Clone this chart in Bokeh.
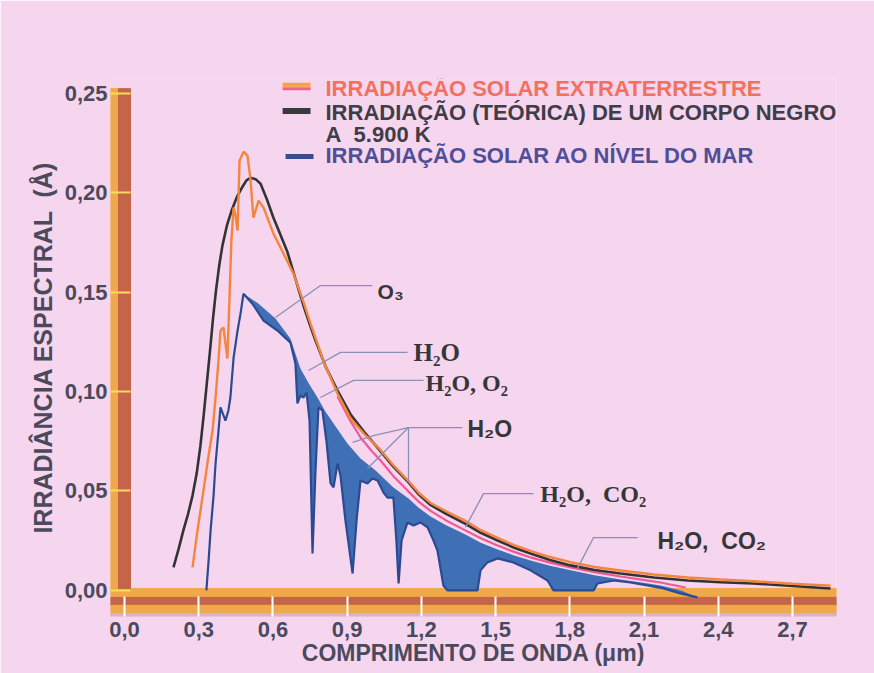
from bokeh.plotting import figure
from bokeh.models import Range1d, FixedTicker, CustomJSTickFormatter
from bokeh.core.properties import value
from bokeh.embed import file_html
from bokeh.resources import INLINE

# ---------------- data ----------------
# Black body at 5900 K
bb_x = [0.198, 0.218, 0.238, 0.257, 0.275, 0.292, 0.307, 0.320, 0.333, 0.346, 0.358, 0.370, 0.383,
        0.396, 0.414, 0.433, 0.455, 0.477, 0.493, 0.509, 0.530, 0.550, 0.576, 0.602, 0.630, 0.659,
        0.690, 0.724, 0.748, 0.772, 0.815, 0.861, 0.914, 0.970, 1.027, 1.085, 1.148, 1.190, 1.237,
        1.300, 1.378, 1.440, 1.508, 1.575, 1.641, 1.720, 1.803, 1.900, 2.005, 2.140, 2.276, 2.410,
        2.542, 2.700, 2.854]
bb_y = [0.0116, 0.0205, 0.0302, 0.0385, 0.0477, 0.0590, 0.0729, 0.0880, 0.1045, 0.1210, 0.1370, 0.1510, 0.1635,
        0.1735, 0.1835, 0.1910, 0.1980, 0.2030, 0.2062, 0.2075, 0.2068, 0.2045, 0.1965, 0.1874, 0.1790, 0.1700,
        0.1570, 0.1430, 0.1340, 0.1256, 0.1120, 0.1005, 0.0885, 0.0795, 0.0712, 0.0625, 0.0543, 0.0482, 0.0430,
        0.0385, 0.0335, 0.0290, 0.0251, 0.0215, 0.0186, 0.0153, 0.0126, 0.0103, 0.0085, 0.0065, 0.0050, 0.0041,
        0.0035, 0.0022, 0.0010]

# Extraterrestrial solar irradiance
ext_x = [0.275, 0.295, 0.315, 0.335, 0.356, 0.368, 0.380, 0.388, 0.400, 0.416, 0.424, 0.432, 0.441,
         0.449, 0.457, 0.465, 0.481, 0.497, 0.509, 0.521, 0.542, 0.562, 0.602, 0.640, 0.683, 0.718,
         0.752, 0.805, 0.861, 0.914, 0.970, 1.027, 1.085, 1.148, 1.190, 1.237, 1.300, 1.378, 1.440,
         1.508, 1.575, 1.641, 1.720, 1.803, 1.900, 2.005, 2.140, 2.276, 2.410, 2.542, 2.700, 2.854]
ext_y = [0.0116, 0.0302, 0.0467, 0.0638, 0.0804, 0.0970, 0.1156, 0.1307, 0.1322, 0.1166, 0.1457, 0.1759, 0.1925,
         0.1884, 0.1809, 0.2161, 0.2206, 0.2186, 0.2070, 0.1874, 0.1960, 0.1925, 0.1794, 0.1700, 0.1593, 0.1470,
         0.1342, 0.1150, 0.0990, 0.0864, 0.0785, 0.0717, 0.0632, 0.0550, 0.0490, 0.0440, 0.0398, 0.0350, 0.0303,
         0.0264, 0.0228, 0.0199, 0.0168, 0.0142, 0.0118, 0.0100, 0.0080, 0.0065, 0.0055, 0.0046, 0.0034, 0.0024]

# Lower (pink) edge of the extraterrestrial band
pink_x = [0.861, 0.914, 0.954, 1.000, 1.035, 1.090, 1.148, 1.190, 1.237, 1.300, 1.378, 1.440, 1.508,
          1.575, 1.641, 1.720, 1.803, 1.900, 2.005, 2.090, 2.167, 2.268]
pink_y = [0.0975, 0.0850, 0.0769, 0.0700, 0.0653, 0.0570, 0.0497, 0.0445, 0.0400, 0.0352, 0.0302, 0.0262, 0.0226,
          0.0194, 0.0166, 0.0140, 0.0116, 0.0092, 0.0070, 0.0054, 0.0040, 0.0015]

# Solar irradiance at sea level
sea_x = [0.331, 0.340, 0.348, 0.360, 0.368, 0.380, 0.388, 0.408, 0.420, 0.428, 0.441, 0.457, 0.469,
         0.481, 0.517, 0.562, 0.618, 0.671, 0.691, 0.699, 0.711, 0.724, 0.736, 0.748, 0.760, 0.772,
         0.784, 0.800, 0.816, 0.833, 0.845, 0.861, 0.873, 0.893, 0.922, 0.938, 0.954, 0.982, 1.002,
         1.023, 1.047, 1.063, 1.087, 1.099, 1.108, 1.120, 1.144, 1.168, 1.196, 1.225, 1.249, 1.265,
         1.289, 1.306, 1.427, 1.439, 1.467, 1.508, 1.572, 1.641, 1.710, 1.734, 1.896, 1.912, 1.977,
         2.045, 2.114, 2.179, 2.247, 2.316]
sea_y = [0.0, 0.0151, 0.0302, 0.0477, 0.0638, 0.0804, 0.0920, 0.0854, 0.0905, 0.0970, 0.1171, 0.1307, 0.1392,
         0.1492, 0.1442, 0.1357, 0.1307, 0.1246, 0.1141, 0.0940, 0.0980, 0.0970, 0.0995, 0.0854, 0.0186, 0.0603,
         0.0920, 0.0905, 0.0754, 0.0538, 0.0518, 0.0638, 0.0578, 0.0352, 0.0085, 0.0352, 0.0553, 0.0538, 0.0563,
         0.0553, 0.0492, 0.0467, 0.0467, 0.0251, 0.0035, 0.0251, 0.0342, 0.0327, 0.0342, 0.0317, 0.0251, 0.0201,
         0.0025, 0.0, 0.0, 0.0101, 0.0141, 0.0161, 0.0141, 0.0101, 0.0050, 0.0, 0.0, 0.0035, 0.0050,
         0.0040, 0.0025, 0.0010, -0.0015, -0.0035]

# Top of the shaded (absorbed) region
env_x = [0.481, 0.542, 0.610, 0.671, 0.711, 0.745, 0.780, 0.812, 0.845, 0.901, 0.954, 1.015, 1.087,
         1.148, 1.190, 1.237, 1.300, 1.378, 1.440, 1.508, 1.575, 1.641, 1.720, 1.803, 1.900, 2.005,
         2.090, 2.167, 2.250, 2.316]
env_y = [0.1492, 0.1442, 0.1367, 0.1266, 0.1116, 0.1040, 0.0970, 0.0900, 0.0839, 0.0739, 0.0663, 0.0603, 0.0518,
         0.0462, 0.0415, 0.0372, 0.0328, 0.0281, 0.0240, 0.0206, 0.0176, 0.0151, 0.0124, 0.0101, 0.0077, 0.0055,
         0.0040, 0.0025, 0.0000, -0.0035]

x_ticks = [0.0, 0.3, 0.6, 0.9, 1.2, 1.5, 1.8, 2.1, 2.4, 2.7]
x_tick_labels = ["0,0", "0,3", "0,6", "0,9", "1,2", "1,5", "1,8", "2,1", "2,4", "2,7"]
y_ticks = [0.0, 0.05, 0.10, 0.15, 0.20, 0.25]
y_tick_labels = ["0,00", "0,05", "0,10", "0,15", "0,20", "0,25"]

NB = "\u00a0"
legend_labels = ["IRRADIAÇÃO SOLAR EXTRATERRESTRE",
                 "IRRADIAÇÃO (TEÓRICA) DE UM CORPO NEGRO",
                 "A" + NB + " 5.900 K",
                 "IRRADIAÇÃO SOLAR AO NÍVEL DO MAR"]
band_labels = ["O₃", "H₂O", "H₂O, O₂", "H₂O", "H₂O," + NB + " CO₂", "H₂O," + NB + " CO₂"]

x_title = "COMPRIMENTO DE ONDA (μm)"
y_title = "IRRADIÂNCIA ESPECTRAL " + NB + "(Å)"

# ---------------- styling ----------------
BG = "#f6d5ee"
ORANGE_BAR = "#f0a94a"
BROWN_BAR = "#c4654a"
TXT = "#4b4a5c"
SANS = "Liberation Sans"
SERIF = "Liberation Serif"

X0, X1 = -0.0566, 2.878
Y0, Y1 = -0.0131, 0.2574

p = figure(width=874, height=673, output_backend="svg", toolbar_location=None,
           x_range=Range1d(X0, X1), y_range=Range1d(Y0, Y1),
           min_border_left=110, min_border_right=38, min_border_top=78, min_border_bottom=57,
           background_fill_color=BG, border_fill_color=BG, outline_line_color=None)
p.grid.visible = False

# decorative axis bars
p.quad(left=X0, right=X1, bottom=0.001, top=-0.0035, color=ORANGE_BAR)
p.quad(left=X0, right=X1, bottom=-0.0035, top=-0.0075, color=BROWN_BAR)
p.quad(left=X0, right=X1, bottom=-0.0075, top=-0.0118, color=ORANGE_BAR)
p.quad(left=X0, right=X1, bottom=-0.0118, top=Y0, color="#d9b3c9")
p.quad(left=X0, right=-0.0243, bottom=0.001, top=0.2523, color=ORANGE_BAR)
p.quad(left=-0.0243, right=0.0243, bottom=0.001, top=0.2523, color=BROWN_BAR)

# shaded absorption region between envelope and sea-level curve
i0 = sea_x.index(env_x[0])
fill_x = env_x + sea_x[i0:][::-1]
fill_y = env_y + sea_y[i0:][::-1]
p.patch(fill_x, fill_y, fill_color="#3f70b5", line_color=None)

p.line(sea_x, sea_y, line_color="#2c4a92", line_width=2.2)
p.line(pink_x, pink_y, line_color="#ee5a94", line_width=2.2)
p.line(bb_x, bb_y, line_color="#333333", line_width=2.6)
p.line(ext_x, ext_y, line_color="#f5843e", line_width=2.4)

# leader lines for the absorption labels
lead_xs = [[0.610, 0.792, 1.002], [0.744, 0.873, 1.144], [0.792, 0.926, 1.209],
           [1.148, 1.366], [1.148, 1.006, 0.922], [1.148, 0.982], [1.148, 1.148],
           [1.378, 1.451, 1.653], [1.831, 1.896, 2.074]]
lead_ys = [[0.1372, 0.1533, 0.1533], [0.1106, 0.1197, 0.1197], [0.0970, 0.1056, 0.1056],
           [0.0819, 0.0819], [0.0819, 0.0779, 0.0744], [0.0819, 0.0613], [0.0819, 0.0543],
           [0.0317, 0.0487, 0.0487], [0.0111, 0.0266, 0.0266]]
p.multi_line(lead_xs, lead_ys, line_color="#8a90b4", line_width=1.3)

lab_x = [1.023, 1.168, 1.217, 1.386, 1.681, 2.154]
lab_y = [0.1503, 0.1197, 0.1041, 0.0814, 0.0483, 0.0251]
lab_font = [SANS, SERIF, SERIF, SANS, SERIF, SANS]
lab_size = ["21px", "25px", "24px", "23px", "24px", "23px"]
for tx, ty, t, f, s in zip(lab_x, lab_y, band_labels, lab_font, lab_size):
    p.text(x=[tx], y=[ty], text=[t], text_font=value(f), text_font_size=s,
           text_font_style="bold", text_color="#363636", text_baseline="middle", text_align="left")

# legend (custom)
p.segment(x0=[0.639], y0=[0.2543], x1=[0.752], y1=[0.2543], line_color="#f6a23e", line_width=4)
p.segment(x0=[0.639], y0=[0.2522], x1=[0.752], y1=[0.2522], line_color="#f0608c", line_width=3)
p.segment(x0=[0.639], y0=[0.2410], x1=[0.752], y1=[0.2410], line_color="#3a3a3a", line_width=6)
p.segment(x0=[0.651], y0=[0.2182], x1=[0.764], y1=[0.2182], line_color="#3d4a8e", line_width=5)
leg_y = [0.2526, 0.2401, 0.2290, 0.2185]
leg_col = ["#f3705e", "#3e3d48", "#3e3d48", "#4f4f98"]
for ly, t, c in zip(leg_y, legend_labels, leg_col):
    p.text(x=[0.8125], y=[ly], text=[t], text_font=value(SANS), text_font_size="22px",
           text_font_style="bold", text_color=c, text_baseline="middle", text_align="left")

# axes
fmt_code = """
const i = tv.findIndex(t => Math.abs(t - tick) < 1e-9);
return i >= 0 ? tl[i] : '';
"""
p.xaxis.ticker = FixedTicker(ticks=x_ticks)
p.xaxis.formatter = CustomJSTickFormatter(args=dict(tv=x_ticks, tl=x_tick_labels), code=fmt_code)
p.yaxis.ticker = FixedTicker(ticks=y_ticks)
p.yaxis.formatter = CustomJSTickFormatter(args=dict(tv=y_ticks, tl=y_tick_labels), code=fmt_code)

for ax in (p.xaxis, p.yaxis):
    ax.axis_line_color = None
    ax.minor_tick_line_color = None
    ax.major_tick_out = 0
    ax.major_label_text_font = SANS
    ax.major_label_text_font_style = "bold"
    ax.major_label_text_font_size = "22px"
    ax.major_label_text_color = TXT
    ax.axis_label_text_font = SANS
    ax.axis_label_text_font_style = "bold"
    ax.axis_label_text_color = TXT

p.xaxis.major_tick_in = 20
p.xaxis.major_tick_line_color = "#ffffff"
p.xaxis.major_tick_line_width = 2
p.xaxis.major_label_standoff = 5
p.xaxis.axis_label = x_title
p.xaxis.axis_label_text_font_size = "23px"
p.xaxis.axis_label_standoff = 0

p.yaxis.major_tick_in = 20
p.yaxis.major_tick_line_color = "#f7dc5c"
p.yaxis.major_tick_line_width = 2
p.yaxis.major_label_standoff = 3
p.yaxis.axis_label = y_title
p.yaxis.axis_label_text_font_size = "25px"
p.yaxis.axis_label_standoff = 5

open("out.html", "w").write(file_html(p, INLINE))
